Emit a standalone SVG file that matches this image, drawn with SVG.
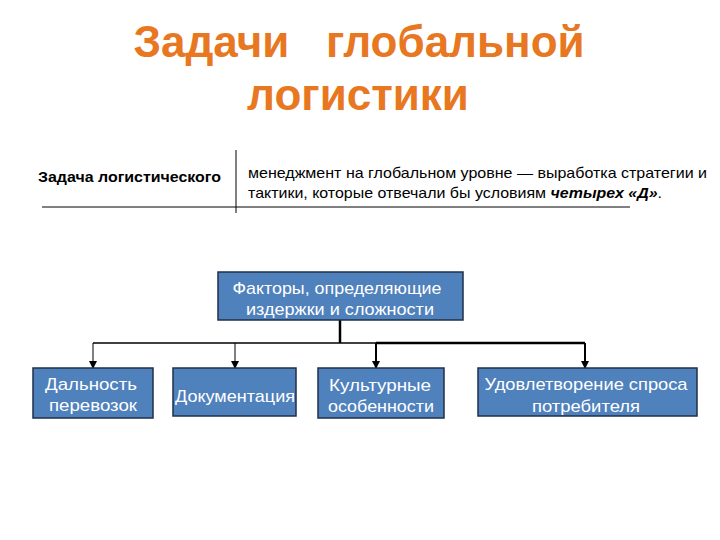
<svg xmlns="http://www.w3.org/2000/svg" width="720" height="540" viewBox="0 0 720 540">
<defs>
<marker id="arr" markerWidth="8" markerHeight="8" refX="7" refY="4" orient="auto" markerUnits="userSpaceOnUse">
<path d="M0,0 L8,4 L0,8 z" fill="#000"/>
</marker>
<style>
.title{font-family:"Liberation Sans",Arial,sans-serif;font-weight:bold;font-size:44px;fill:#E87722;text-anchor:middle}
.t{font-family:"Liberation Sans",Arial,sans-serif;font-size:15px;fill:#000}
.box{fill:#4F81BD;stroke:#1F2F4A;stroke-width:1.5}
.bt{font-family:"Liberation Sans",Arial,sans-serif;font-size:17px;fill:#fff;text-anchor:middle}
.c{stroke:#000;fill:none}
</style>
</defs>
<rect width="720" height="540" fill="#fff"/>
<text class="title" x="359" y="57" xml:space="preserve">Задачи   глобальной</text>
<text class="title" x="358" y="110">логистики</text>

<g id="table">
<line x1="236" y1="150" x2="236" y2="213" stroke="#000" stroke-width="1"/>
<line x1="42" y1="207" x2="630" y2="207" stroke="#000" stroke-width="1"/>
<text class="t" x="38" y="182" font-weight="bold" textLength="183" lengthAdjust="spacingAndGlyphs">Задача логистического</text>
<text class="t" x="248" y="178" textLength="459" lengthAdjust="spacingAndGlyphs">менеджмент на глобальном уровне — выработка стратегии и</text>
<text class="t" x="248" y="198" textLength="414" lengthAdjust="spacingAndGlyphs">тактики, которые отвечали бы условиям <tspan font-weight="bold" font-style="italic">четырех «Д»</tspan>.</text>
</g>

<g id="connectors">
<path class="c" stroke-width="2.5" d="M340,320 V343"/>
<path class="c" stroke-width="1.5" d="M93,343 H376"/>
<path class="c" stroke-width="2.5" d="M376,343 H585"/>
<path class="c" stroke-width="1" d="M93,343 V368" marker-end="url(#arr)"/>
<path class="c" stroke-width="1" d="M235,343 V368" marker-end="url(#arr)"/>
<path class="c" stroke-width="2" d="M376,343 V368" marker-end="url(#arr)"/>
<path class="c" stroke-width="2" d="M585,343 V368" marker-end="url(#arr)"/>
</g>

<g id="n-factors">
<rect class="box" x="218" y="272" width="245" height="48"/>
<text class="bt" x="337" y="294" textLength="209" lengthAdjust="spacingAndGlyphs">Факторы, определяющие</text>
<text class="bt" x="340" y="315" textLength="188" lengthAdjust="spacingAndGlyphs">издержки и сложности</text>
</g>
<g id="n-distance">
<rect class="box" x="33" y="368" width="120" height="50"/>
<text class="bt" x="91" y="390" textLength="92" lengthAdjust="spacingAndGlyphs">Дальность</text>
<text class="bt" x="93" y="411" textLength="88" lengthAdjust="spacingAndGlyphs">перевозок</text>
</g>
<g id="n-docs">
<rect class="box" x="173" y="368" width="123" height="48"/>
<text class="bt" x="235" y="402" textLength="120" lengthAdjust="spacingAndGlyphs">Документация</text>
</g>
<g id="n-culture">
<rect class="box" x="318" y="368" width="126" height="50"/>
<text class="bt" x="380" y="391" textLength="102" lengthAdjust="spacingAndGlyphs">Культурные</text>
<text class="bt" x="381" y="412" textLength="106" lengthAdjust="spacingAndGlyphs">особенности</text>
</g>
<g id="n-demand">
<rect class="box" x="478" y="368" width="219" height="48"/>
<text class="bt" x="586" y="390" textLength="203" lengthAdjust="spacingAndGlyphs">Удовлетворение спроса</text>
<text class="bt" x="586" y="412" textLength="108" lengthAdjust="spacingAndGlyphs">потребителя</text>
</g>
</svg>
